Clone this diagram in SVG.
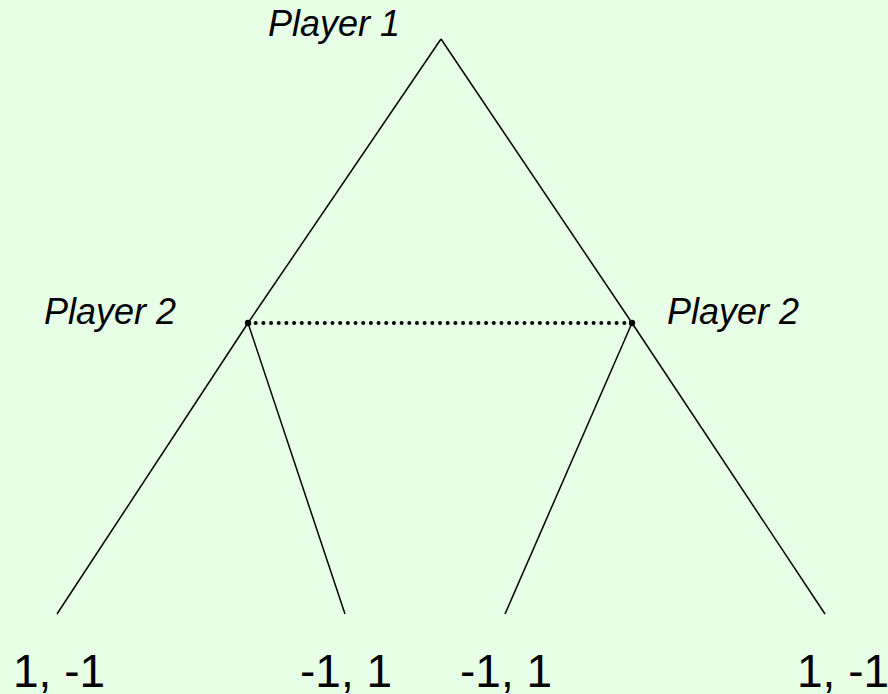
<svg xmlns="http://www.w3.org/2000/svg" width="888" height="694" viewBox="0 0 888 694">
<style>
.edge{stroke:#000;stroke-width:1.5;fill:none}
.info{stroke:#000;stroke-width:4;stroke-linecap:round;stroke-dasharray:0 7.68;fill:none}
.lbl{font-family:"Liberation Sans",Arial,sans-serif;font-style:italic;font-size:36px;fill:#000}
.pay{font-family:"Liberation Sans",Arial,sans-serif;font-size:46px;fill:#000}
.dot{fill:#000}
</style>
<rect width="888" height="694" fill="#E6FFE6"/>
<g id="connectors">
<line class="edge" x1="441" y1="39" x2="248" y2="323"/>
<line class="edge" x1="441" y1="39" x2="632" y2="323"/>
<line class="edge" x1="248" y1="323" x2="57" y2="614"/>
<line class="edge" x1="248" y1="323" x2="345" y2="614"/>
<line class="edge" x1="632" y1="323" x2="505" y2="614"/>
<line class="edge" x1="632" y1="323" x2="825" y2="614"/>
<line class="info" x1="248" y1="323" x2="632" y2="323"/>
</g>
<g id="root"><text class="lbl" x="268" y="36">Player 1</text></g>
<g id="p2-left"><circle class="dot" cx="248" cy="323" r="3.2"/><text class="lbl" x="44" y="324">Player 2</text></g>
<g id="p2-right"><circle class="dot" cx="632" cy="323" r="3.2"/><text class="lbl" x="667" y="324">Player 2</text></g>
<g id="leaf1"><text class="pay" x="13" y="687">1, -1</text></g>
<g id="leaf2"><text class="pay" x="300" y="687">-1, 1</text></g>
<g id="leaf3"><text class="pay" x="460" y="687">-1, 1</text></g>
<g id="leaf4"><text class="pay" x="797" y="687">1, -1</text></g>
</svg>
